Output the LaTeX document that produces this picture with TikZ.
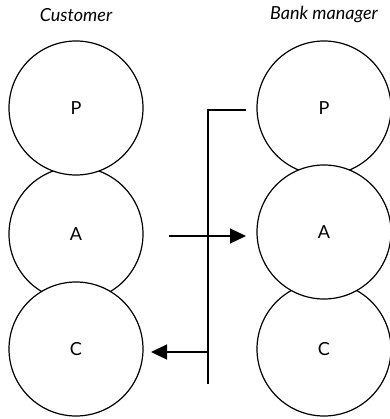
\documentclass[tikz,border=0pt]{standalone}
\usepackage{fontspec}
\setmainfont{Lato}
\usetikzlibrary{arrows.meta}
\begin{document}
\begin{tikzpicture}[x=1pt,y=-1pt,
  stage/.style={circle,draw,line width=1.2pt,fill=white,minimum size=134pt,inner sep=0pt,font=\fontsize{18}{20}\selectfont},
  role/.style={font=\fontsize{18}{20}\selectfont\itshape},
  link/.style={line width=1.2pt},
  flow/.style={link,-{Triangle[length=16pt,width=15pt]}}]
  \useasboundingbox (0,0) rectangle (389,419);
  % column headings
  \node[role] (custTitle) at (76,15) {Customer};
  \node[role] (bankTitle) at (324,15) {Bank manager};
  % customer: P and C drawn over A
  \node[stage] (cA) at (76,234) {A};
  \node[stage] (cP) at (76,108) {P};
  \node[stage] (cC) at (76,349) {C};
  % bank manager: A drawn over P and C
  \node[stage] (bP) at (324,108) {P};
  \node[stage] (bC) at (324,349) {C};
  \node[stage] (bA) at (324,232) {A};
  % connectors
  \coordinate (pOut) at (246,110);
  \coordinate (corner) at (208,110);
  \coordinate (lineEnd) at (208,384);
  \coordinate (cBranch) at (208,352);
  \coordinate (aStart) at (169,236);
  \coordinate (aEnd) at (246,236);
  \coordinate (cTip) at (151,352);
  \draw[link] (pOut) -- (corner) -- (lineEnd);
  \draw[flow] (aStart) -- (aEnd);
  \draw[flow] (cBranch) -- (cTip);
\end{tikzpicture}
\end{document}
